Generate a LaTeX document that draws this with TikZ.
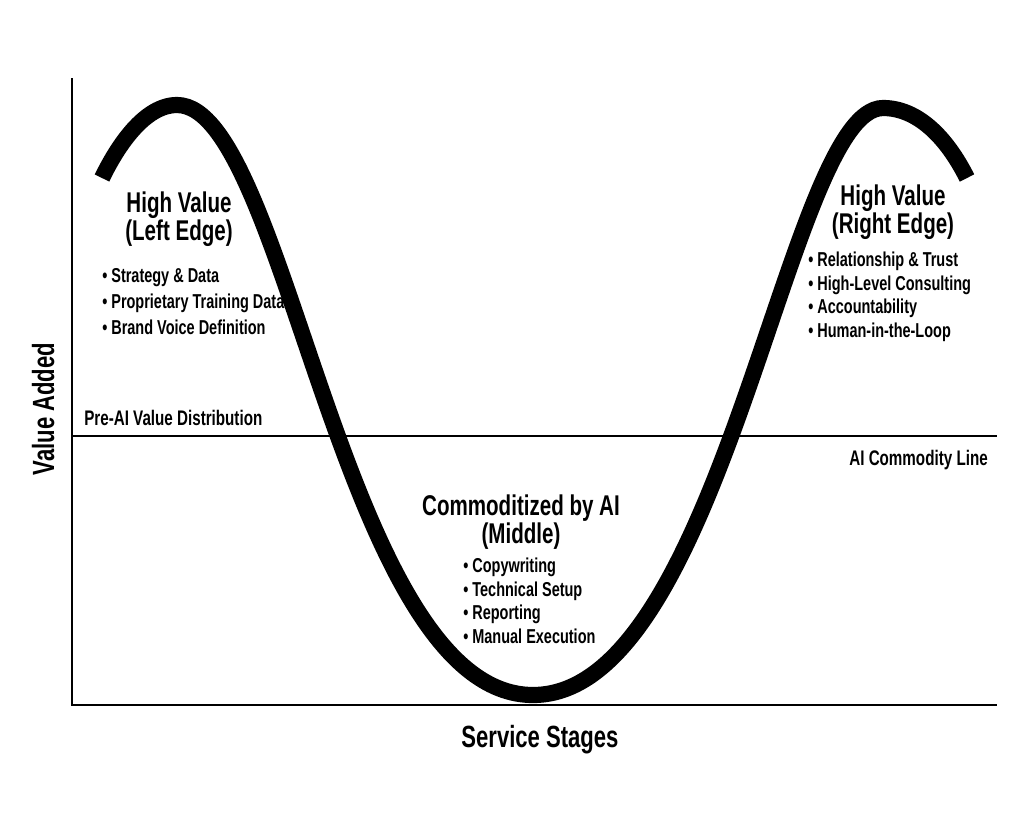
\documentclass[tikz,border=0pt]{standalone}
\usepackage{fontspec}
\setmainfont{Liberation Sans}[FakeStretch=0.72]
\tikzstyle{titleNode} = [font=\bfseries\fontsize{20.3}{19.8}\selectfont, align=center, inner sep=0pt, anchor=base]
\tikzstyle{listNode} = [font=\bfseries\fontsize{14.3}{16.6}\selectfont, align=left, inner sep=0pt, anchor=base west]
\tikzstyle{lineLabel} = [font=\bfseries\fontsize{15}{16}\selectfont, inner sep=0pt]
\tikzstyle{axisLabel} = [font=\bfseries\fontsize{21.8}{24}\selectfont, inner sep=0pt, anchor=base]
\tikzstyle{axisLine} = [line width=2.1pt, draw=black]
\tikzstyle{curveLine} = [line width=11.5pt, draw=black, line cap=butt]

\begin{document}
\begin{tikzpicture}[x=0.025cm, y=-0.025cm]
        \useasboundingbox (0,0) rectangle (1024,825);
        % axes and commodity line
        \coordinate (top) at (72,78);
        \coordinate (origin) at (72,705);
        \coordinate (xend) at (997,705);
        \coordinate (lineStart) at (72,436);
        \coordinate (lineEnd) at (997,436);
        \draw [axisLine] (top) -- (origin) -- (xend);
        \draw [axisLine] (lineStart) -- (lineEnd);

        % value curve
        \draw [curveLine] (102,178) .. controls (118,145) and (145,105) .. (177,105)
            .. controls (287,105) and (343,695) .. (533,695)
            .. controls (723,695) and (788,108) .. (883,108)
            .. controls (918,108) and (947,138) .. (967,178);

        % base anchor sits on the last line
        \node (leftTitle) [titleNode] at (179,240) {High Value\\(Left Edge)};
        \node (leftList) [listNode, font=\bfseries\fontsize{14.3}{18.4}\selectfont] at (102,334)
            {\textbullet\ Strategy \& Data\\\textbullet\ Proprietary Training Data\\\textbullet\ Brand Voice Definition};
        \node (rightTitle) [titleNode] at (893,233) {High Value\\(Right Edge)};
        \node (rightList) [listNode] at (808,337)
            {\textbullet\ Relationship \& Trust\\\textbullet\ High-Level Consulting\\\textbullet\ Accountability\\\textbullet\ Human-in-the-Loop};
        \node (midTitle) [titleNode] at (521,543) {Commoditized by AI\\(Middle)};
        \node (midList) [listNode] at (463,643)
            {\textbullet\ Copywriting\\\textbullet\ Technical Setup\\\textbullet\ Reporting\\\textbullet\ Manual Execution};

        \node (preAI) [lineLabel, anchor=base west] at (84,425) {Pre-AI Value Distribution};
        \node (commodity) [lineLabel, anchor=base east] at (988,465) {AI Commodity Line};
        \node (xLabel) [axisLabel] at (540,747) {Service Stages};
        \node (yLabel) [axisLabel, rotate=90] at (54,409) {Value Added};
    \end{tikzpicture}
\end{document}
